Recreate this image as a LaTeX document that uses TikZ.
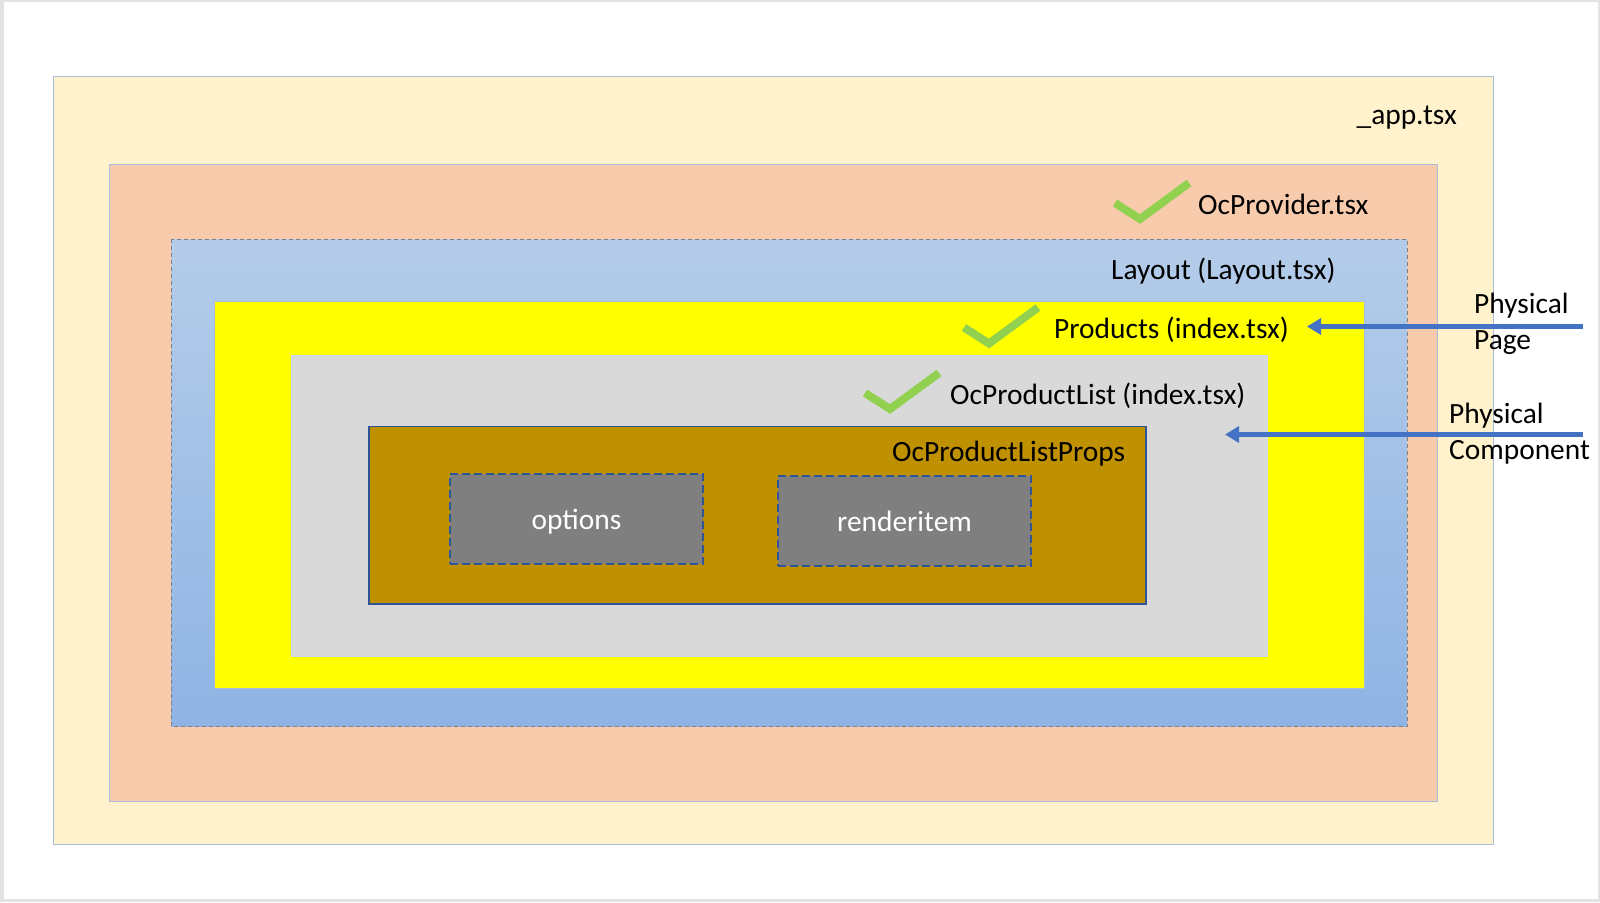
\documentclass[tikz,border=0pt]{standalone}
\usepackage{fontspec}
\setmainfont{Carlito}
\usetikzlibrary{arrows.meta}
\definecolor{framegray}{HTML}{E3E3E3}
\definecolor{appfill}{HTML}{FFF2CC}
\definecolor{provfill}{HTML}{F8CBAD}
\definecolor{layouttop}{HTML}{B4CCE9}
\definecolor{layoutbot}{HTML}{8FB4E3}
\definecolor{pagefill}{HTML}{FFFF00}
\definecolor{listfill}{HTML}{D9D9D9}
\definecolor{propsfill}{HTML}{BF9000}
\definecolor{leaffill}{HTML}{7F7F7F}
\definecolor{edgeblue}{HTML}{A9BEDD}
\definecolor{darkblue}{HTML}{2F5597}
\definecolor{arrowblue}{HTML}{4472C4}
\definecolor{checkgreen}{HTML}{92D050}

\begin{document}
\begin{tikzpicture}[x=1pt,y=-1pt,
  lbl/.style={font=\fontsize{29.4}{35.5}\selectfont,inner sep=0pt},
  okmark/.style={draw=checkgreen,line width=8pt,line join=miter},
  leafbox/.style={draw=darkblue,line width=1.3pt,dash pattern=on 8pt off 4pt,fill=leaffill,
    text=white,minimum width=253pt,minimum height=90pt,inner sep=0pt,
    text height=21pt,text depth=0pt,font=\fontsize{29.4}{35.5}\selectfont},
  ptr/.style={draw=arrowblue,line width=4.5pt,-{Triangle[length=14pt,width=16pt]}}]
\useasboundingbox (0,0) rectangle (1600,902);
\fill[framegray] (0,0) rectangle (1600,902);
\fill[white] (4,2) rectangle (1598,899);
\draw[fill=appfill,draw=edgeblue,line width=1pt] (53,76.5) rectangle (1493,844);
\node[lbl,anchor=base east] (applbl) at (1457,124) {\_app.tsx};
\draw[fill=provfill,draw=edgeblue,line width=1pt] (109,164) rectangle (1437,801);
\draw[okmark] (1115,203) -- (1140,219) -- (1189,183);
\node[lbl,anchor=base west] (provlbl) at (1198,214) {OcProvider.tsx};
\shade[top color=layouttop,bottom color=layoutbot] (171,239) rectangle (1407,726.5);
\draw[draw=gray,line width=1pt,dash pattern=on 4pt off 3pt] (171,239) rectangle (1407,726.5);
\node[lbl,anchor=base west] (layoutlbl) at (1111,279) {Layout (Layout.tsx)};
\draw[fill=pagefill,draw=edgeblue,line width=1pt] (214,301) rectangle (1364,688);
\draw[okmark] (964,327.5) -- (989,343.5) -- (1038,307.5);
\node[lbl,anchor=base west] (prodlbl) at (1054,338) {Products (index.tsx)};
\draw[fill=listfill,draw=edgeblue!60,line width=1pt] (291,355) rectangle (1267,656);
\draw[okmark] (865,393) -- (890,409) -- (939,373);
\node[lbl,anchor=base west] (listlbl) at (950,404) {OcProductList (index.tsx)};
\draw[fill=propsfill,draw=darkblue,line width=1.5pt] (369,426.5) rectangle (1146,604);
\node[lbl,anchor=base west] (propslbl) at (892,461) {OcProductListProps};
\node[leafbox] (options) at (576.5,519) {options};
\node[leafbox] (renderitem) at (904.5,521) {renderitem};
\node[lbl,anchor=base west,align=left] (pagelbl) at (1474,349) {Physical\\Page};
\node[lbl,anchor=base west,align=left] (complbl) at (1449,459) {Physical\\Component};
\coordinate (pagetail) at (1583,326.5);
\coordinate (pagetip) at (1307,326.5);
\coordinate (comptail) at (1583,434.5);
\coordinate (comptip) at (1225,434.5);
\draw[ptr] (pagetail) -- (pagetip);
\draw[ptr] (comptail) -- (comptip);
\end{tikzpicture}
\end{document}
